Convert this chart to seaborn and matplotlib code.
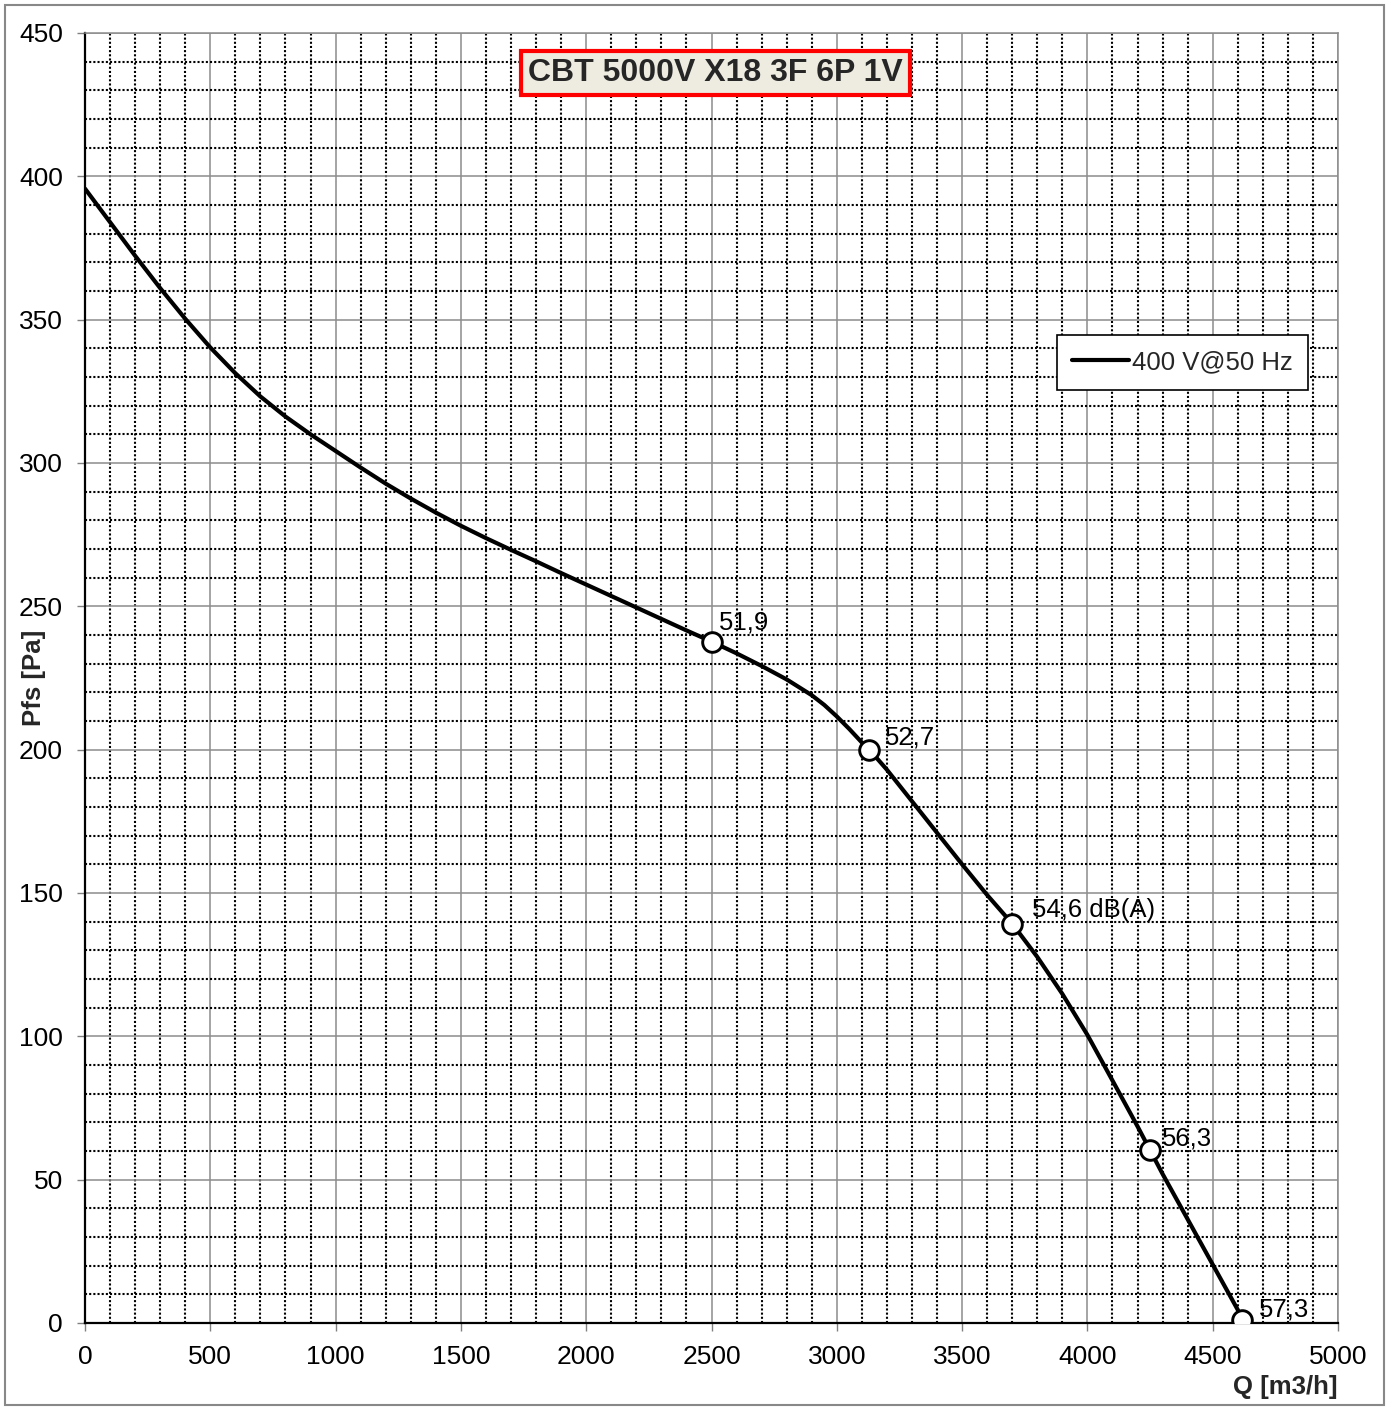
import matplotlib
matplotlib.use("Agg")
import matplotlib.pyplot as plt
import seaborn as sns
import pandas as pd
from matplotlib.ticker import MultipleLocator
from matplotlib.patches import Rectangle

# ---- data ----
q_curve = [0, 100, 200, 300, 400, 500, 600, 700, 800, 900, 1000, 1100, 1200,
           1300, 1400, 1500, 1600, 1700, 1800, 1900, 2000, 2100, 2200, 2300,
           2400, 2500, 2600, 2700, 2800, 2900, 2950, 3000, 3050, 3100, 3130,
           3200, 3300, 3400, 3500, 3600, 3700, 3800, 3900, 4000, 4100, 4200,
           4250, 4300, 4400, 4500, 4600, 4616]
p_curve = [395.7, 384.0, 372.3, 361.0, 350.3, 340.3, 331.3, 323.2, 316.2, 310.0,
           304.2, 298.4, 292.8, 287.6, 282.7, 278.1, 273.8, 269.7, 265.7, 261.6,
           257.6, 253.6, 249.6, 245.6, 241.6, 237.7, 233.6, 229.2, 224.5, 219.0,
           215.6, 211.6, 207.2, 202.5, 200.0, 193.0, 182.0, 171.0, 160.0, 149.3,
           139.3, 127.7, 114.8, 100.5, 84.6, 68.6, 60.3, 52.0, 36.2, 20.4, 4.6,
           1.2]
q_points = [2500, 3130, 3700, 4250, 4616]
p_points = [237.7, 200.0, 139.3, 60.3, 1.2]
point_labels = ["51,9", "52,7", "54,6 dB(A)", "56,3", "57,3"]
series_name = "400 V@50 Hz"
title = "CBT 5000V X18 3F 6P 1V"
x_label = "Q [m3/h]"
y_label = "Pfs [Pa]"

# label offsets in points (style)
label_offsets = [(5, 13.5), (11.5, 8.6), (14.4, 10), (8.6, 8.6), (12.2, 7.2)]

curve_df = pd.DataFrame({"Q": q_curve, "P": p_curve})
pts_df = pd.DataFrame({"Q": q_points, "P": p_points})

sns.set_style("white")
plt.rcParams['font.family'] = ['Liberation Sans', 'DejaVu Sans']

fig = plt.figure(figsize=(13.9, 14.07), dpi=100)
ax = fig.add_axes([85 / 1390, 84 / 1407, 1253 / 1390, 1290 / 1407])

sns.lineplot(data=curve_df, x="Q", y="P", sort=False, color="black",
             linewidth=3.0, label=series_name, ax=ax, zorder=3,
             solid_joinstyle="round")
sns.scatterplot(data=pts_df, x="Q", y="P", s=200, color="white",
                edgecolor="black", linewidth=2.1, legend=False, ax=ax, zorder=4)

for q, p, lab, off in zip(q_points, p_points, point_labels, label_offsets):
    ax.annotate(lab, (q, p), xytext=off, textcoords="offset points",
                ha="left", va="center", fontsize=18.5, color="black", zorder=5)

ax.set_xlim(0, 5000)
ax.set_ylim(0, 450)
ax.xaxis.set_major_locator(MultipleLocator(500))
ax.xaxis.set_minor_locator(MultipleLocator(100))
ax.yaxis.set_major_locator(MultipleLocator(50))
ax.yaxis.set_minor_locator(MultipleLocator(10))

ax.set_axisbelow(True)
ax.grid(which="major", color="#8c8c8c", linewidth=1.1, linestyle="-")
ax.grid(which="minor", color="black", linewidth=1.5, linestyle=(0, (1, 1)))

ax.tick_params(which="major", bottom=True, left=True, direction="out",
               length=6, width=1, color="#808080", labelsize=19, pad=10,
               labelcolor="black")
ax.tick_params(which="minor", length=0)

for side in ["left", "bottom"]:
    ax.spines[side].set_color("black")
    ax.spines[side].set_linewidth(1.6)
for side in ["top", "right"]:
    ax.spines[side].set_color("#8c8c8c")
    ax.spines[side].set_linewidth(1.1)

ax.set_xlabel(x_label, loc="right", fontweight="bold", fontsize=18.5, labelpad=4)
ax.set_ylabel(y_label, fontweight="bold", fontsize=18.5)
ax.yaxis.set_label_coords(-0.031, 0.5)

ax.text(0.503, 0.969, title, transform=ax.transAxes, ha="center", va="center",
        fontsize=23, fontweight="bold", zorder=6,
        bbox=dict(boxstyle="square,pad=0.22", fc="#EEECE1", ec="#FF0000", lw=3))

leg = ax.legend(loc="upper left", bbox_to_anchor=(0.7757, 0.7659),
                borderaxespad=0, frameon=True, fancybox=False,
                edgecolor="black", framealpha=1, fontsize=18.5,
                handlelength=2.2, handletextpad=0.12, borderpad=0.6)
leg.get_frame().set_linewidth(1.2)
leg.set_zorder(6)

fig.patches.append(Rectangle((5 / 1390, 2 / 1407), 1379 / 1390, 1400 / 1407,
                             transform=fig.transFigure, fill=False,
                             ec="#888888", lw=1.5))

fig.savefig("out.png", dpi=100)
